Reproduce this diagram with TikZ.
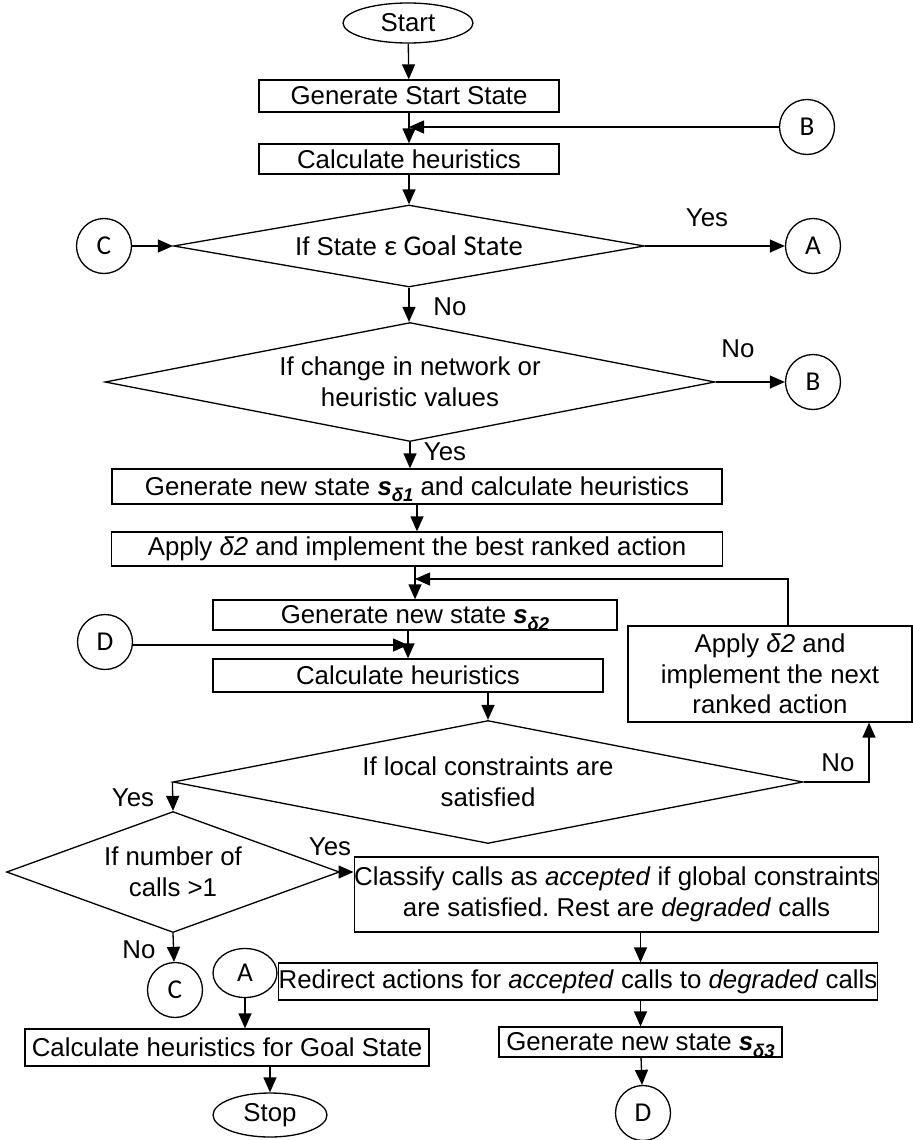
\documentclass[tikz,border=0pt]{standalone}
\usepackage{fontspec}
\setmainfont{Liberation Sans}
\newfontfamily\carlito{Carlito}
\usetikzlibrary{shapes.geometric,arrows.meta,positioning}
\frenchspacing
\newcommand{\sdelta}[1]{\textbf{\textit{s}}\smash{\raisebox{-0.45ex}{\fontsize{10.5}{10.5}\selectfont\bfseries\itshape δ#1}}}

\begin{document}
\begin{tikzpicture}[x=0.02cm, y=-0.02cm, line width=0.75pt,
    every node/.style={font=\fontsize{14.7}{17.5}\selectfont},
    >={Triangle[length=0.3cm,width=0.26cm]},
    box/.style={draw, rectangle, inner sep=0pt, align=center},
    decision/.style={draw, diamond, inner sep=0pt, align=center},
    terminal/.style={draw, ellipse, inner sep=0pt},
    connector/.style={draw, circle, inner sep=0pt, minimum size=1.1cm, font=\carlito\fontsize{15.5}{15.5}\selectfont}]
    \useasboundingbox (0,0) rectangle (913,1140);

    % main column
    \node[terminal, minimum width=2.6cm, minimum height=0.8cm] (start) at (408,23) {Start};
    \node[box, minimum width=6cm, minimum height=0.64cm] (gss) at (409,96) {Generate Start State};
    \node[box, minimum width=6cm, minimum height=0.6cm] (ch1) at (409,159) {Calculate heuristics};
    \node[decision, minimum width=9.42cm, minimum height=1.64cm, aspect=5.74] (goal) at (409,246)
        {If State {\carlito\fontsize{16.3}{17.5}\selectfont ε Goal State}};
    \node[decision, minimum width=12.2cm, minimum height=2.38cm, aspect=5.13] (change) at (410,382)
        {If change in network or\\heuristic values};
    \node[box, minimum width=12.2cm, minimum height=0.7cm] (gs1) at (417,486.5)
        {Generate new state \sdelta{1} and calculate heuristics};
    \node[box, minimum width=12.22cm, minimum height=0.68cm] (best) at (417,549)
        {Apply \textit{δ2} and implement the best ranked action};
    \node[box, minimum width=8.08cm, minimum height=0.6cm] (gs2) at (415,615) {Generate new state \sdelta{2}};
    \node[box, minimum width=7.8cm, minimum height=0.66cm] (ch2) at (408,675.5) {Calculate heuristics};
    \node[box, minimum width=5.68cm, minimum height=1.92cm] (next) at (770,674)
        {Apply \textit{δ2} and\\implement the next\\ranked action};
    \node[decision, minimum width=12.6cm, minimum height=2.46cm, aspect=5.12] (local) at (488,782)
        {If local constraints are\\satisfied};
    \node[decision, minimum width=6.66cm, minimum height=2.42cm, aspect=2.75] (calls) at (173,872)
        {If number of\\calls >1};
    \node[box, minimum width=10.18cm, minimum height=1.5cm] (classify) at (616.5,894.5)
        {Classify calls as \textit{accepted} if global constraints\\are satisfied. Rest are \textit{degraded} calls};
    \node[box, minimum width=11.72cm, minimum height=0.74cm] (redirect) at (578,981.5)
        {Redirect actions for \textit{accepted} calls to \textit{degraded} calls};
    \node[box, minimum width=5.66cm, minimum height=0.6cm] (gs3) at (640.5,1042) {Generate new state \sdelta{3}};
    \node[box, minimum width=8.08cm, minimum height=0.74cm] (cgs) at (227,1047.5) {Calculate heuristics for Goal State};
    \node[terminal, minimum width=2.28cm, minimum height=0.88cm] (stop) at (270,1115) {Stop};

    % off-page connectors
    \node[connector] (b1) at (807,127) {B};
    \node[connector] (a1) at (813,246) {A};
    \node[connector] (c1) at (104,246) {C};
    \node[connector] (b2) at (813,382) {B};
    \node[connector] (d1) at (105,642) {D};
    \node[connector] (c2) at (175,990) {C};
    \node[draw, ellipse, inner sep=0pt, minimum width=1.28cm, minimum height=0.98cm,
        font=\carlito\fontsize{15.5}{15.5}\selectfont] (a2) at (245,973) {A};
    \node[connector] (d2) at (643,1113) {D};

    % branch labels
    \node (yes1) at (707,218) {Yes};
    \node (no1) at (450,307) {No};
    \node (no2) at (738,349) {No};
    \node (yes2) at (445,452) {Yes};
    \node (no3) at (838,763) {No};
    \node (yes3) at (133,798) {Yes};
    \node (yes4) at (330,847) {Yes};
    \node (no4) at (139,950) {No};

    \coordinate (loop) at (788,579);
    \coordinate (nocorner) at (869,782);

    % flow
    \draw[->] (start) -- (gss);
    \draw[->] (gss) -- (ch1);
    \draw[->] (b1) -- (b1 -| gss.south);
    \draw[->] (ch1) -- (goal);
    \draw[->] (goal.east) -- (a1);
    \draw[->] (c1) -- (goal.west);
    \draw[->] (goal.south) -- (goal.south |- change.north);
    \draw[->] (change.east) -- (b2);
    \draw[->] (change.south) -- (change.south |- gs1.north);
    \draw[->] (gs1) -- (best);
    \draw[->] (gs2.north |- best.south) -- (gs2.north);
    \draw[->] (next.north -| loop) -- (loop) -- (loop -| gs2.north);
    \draw[->] (ch2.north |- gs2.south) -- (ch2.north);
    \draw[->] (d1.east |- 0,645) -- (ch2.north |- 0,645);
    \draw[->] (local.north |- ch2.south) -- (local.north);
    \draw[->] (local.east) -- (nocorner) -- (nocorner |- next.south);
    \draw[->] (local.west) -- (calls.north);
    \draw[->] (calls.east) -- (calls.east -| classify.west);
    \draw[->] (calls.south) -- (c2);
    \draw[->] (gs3.north |- classify.south) -- (gs3.north |- redirect.north);
    \draw[->] (gs3.north |- redirect.south) -- (gs3.north);
    \draw[->] (gs3) -- (d2);
    \draw[->] (a2) -- (a2.south |- cgs.north);
    \draw[->] (stop.north |- cgs.south) -- (stop);
\end{tikzpicture}
\end{document}
